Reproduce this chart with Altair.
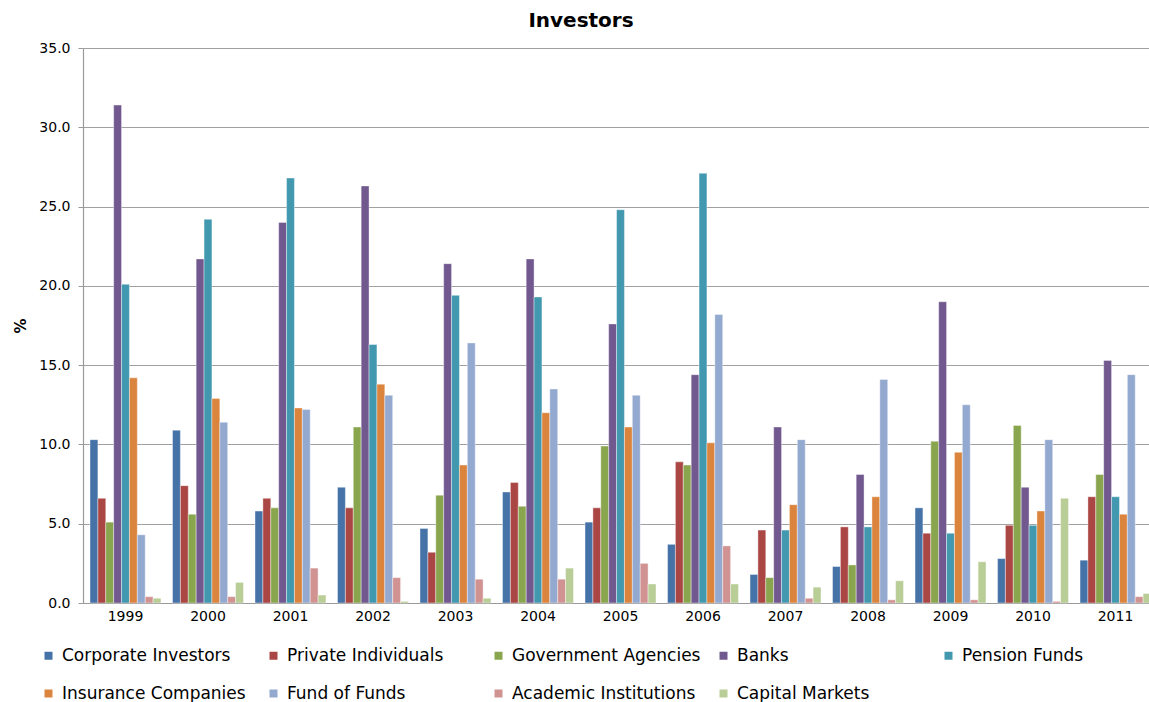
import altair as alt
import pandas as pd

years = ["1999", "2000", "2001", "2002", "2003", "2004", "2005",
         "2006", "2007", "2008", "2009", "2010", "2011"]

series = ["Corporate Investors", "Private Individuals", "Government Agencies",
          "Banks", "Pension Funds", "Insurance Companies", "Fund of Funds",
          "Academic Institutions", "Capital Markets"]

colors = ["#4572A7", "#AA4643", "#89A54E", "#71588F", "#4198AF",
          "#DB843D", "#93A9CF", "#D19392", "#B9CD96"]

corporate_investors = [10.3, 10.9, 5.8, 7.3, 4.7, 7.0, 5.1, 3.7, 1.8, 2.3, 6.0, 2.8, 2.7]
private_individuals = [6.6, 7.4, 6.6, 6.0, 3.2, 7.6, 6.0, 8.9, 4.6, 4.8, 4.4, 4.9, 6.7]
government_agencies = [5.1, 5.6, 6.0, 11.1, 6.8, 6.1, 9.9, 8.7, 1.6, 2.4, 10.2, 11.2, 8.1]
banks = [31.4, 21.7, 24.0, 26.3, 21.4, 21.7, 17.6, 14.4, 11.1, 8.1, 19.0, 7.3, 15.3]
pension_funds = [20.1, 24.2, 26.8, 16.3, 19.4, 19.3, 24.8, 27.1, 4.6, 4.8, 4.4, 4.9, 6.7]
insurance_companies = [14.2, 12.9, 12.3, 13.8, 8.7, 12.0, 11.1, 10.1, 6.2, 6.7, 9.5, 5.8, 5.6]
fund_of_funds = [4.3, 11.4, 12.2, 13.1, 16.4, 13.5, 13.1, 18.2, 10.3, 14.1, 12.5, 10.3, 14.4]
academic_institutions = [0.4, 0.4, 2.2, 1.6, 1.5, 1.5, 2.5, 3.6, 0.3, 0.2, 0.2, 0.1, 0.4]
capital_markets = [0.3, 1.3, 0.5, 0.1, 0.3, 2.2, 1.2, 1.2, 1.0, 1.4, 2.6, 6.6, 0.6]

y_ticks = [0, 5, 10, 15, 20, 25, 30, 35]

values_by_series = [corporate_investors, private_individuals, government_agencies,
                    banks, pension_funds, insurance_companies, fund_of_funds,
                    academic_institutions, capital_markets]

rows = []
for s, vals in zip(series, values_by_series):
    for yr, v in zip(years, vals):
        rows.append({"year": yr, "series": s, "value": v})
df = pd.DataFrame(rows)

FONT = "DejaVu Sans"

chart = alt.Chart(df).mark_bar(stroke="white", strokeWidth=0.4).encode(
    x=alt.X("year:N", sort=years,
            scale=alt.Scale(range=[0, 1075], paddingInner=0.14, paddingOuter=0.085),
            axis=alt.Axis(title=None, labelAngle=0, ticks=False, domain=True,
                          domainColor="#9a9a9a", domainWidth=1.2,
                          labelFont=FONT, labelFontSize=14, labelColor="black",
                          labelPadding=6, grid=False)),
    xOffset=alt.XOffset("series:N", sort=series,
                        scale=alt.Scale(paddingInner=0, paddingOuter=0)),
    y=alt.Y("value:Q", scale=alt.Scale(domain=[0, 35], nice=False),
            axis=alt.Axis(title="%", values=y_ticks, format=".1f",
                          labelFont=FONT, labelFontSize=14, labelColor="black",
                          labelPadding=8, tickSize=5, tickColor="#9a9a9a",
                          domainColor="#9a9a9a", domainWidth=1.2,
                          gridColor="#a0a0a0", gridWidth=1.2,
                          titleFont=FONT, titleFontSize=15, titleFontWeight="bold",
                          titleColor="black", titlePadding=10)),
    color=alt.Color("series:N", sort=series,
                    scale=alt.Scale(domain=series, range=colors),
                    legend=alt.Legend(title=None, orient="none", legendX=-43, legendY=599,
                                      direction="horizontal", columns=5,
                                      symbolType="square", symbolSize=64,
                                      symbolStrokeWidth=0, labelFont=FONT,
                                      labelFontSize=17, labelColor="black",
                                      labelLimit=400,
                                      rowPadding=20, columnPadding=14,
                                      gridAlign="all", labelOffset=5, padding=0)),
).properties(
    width=1066,
    height=555,
    padding={"left": 83, "top": 48, "right": 0, "bottom": 99},
    autosize=alt.AutoSizeParams(type="none"),
    title=alt.Title("Investors", font=FONT, fontSize=20, fontWeight="bold",
                    color="black", anchor="middle", dx=-35, offset=10),
).configure_view(stroke=None).configure(background="white")

chart.save("out.html", embed_options={"renderer": "svg", "actions": False})
